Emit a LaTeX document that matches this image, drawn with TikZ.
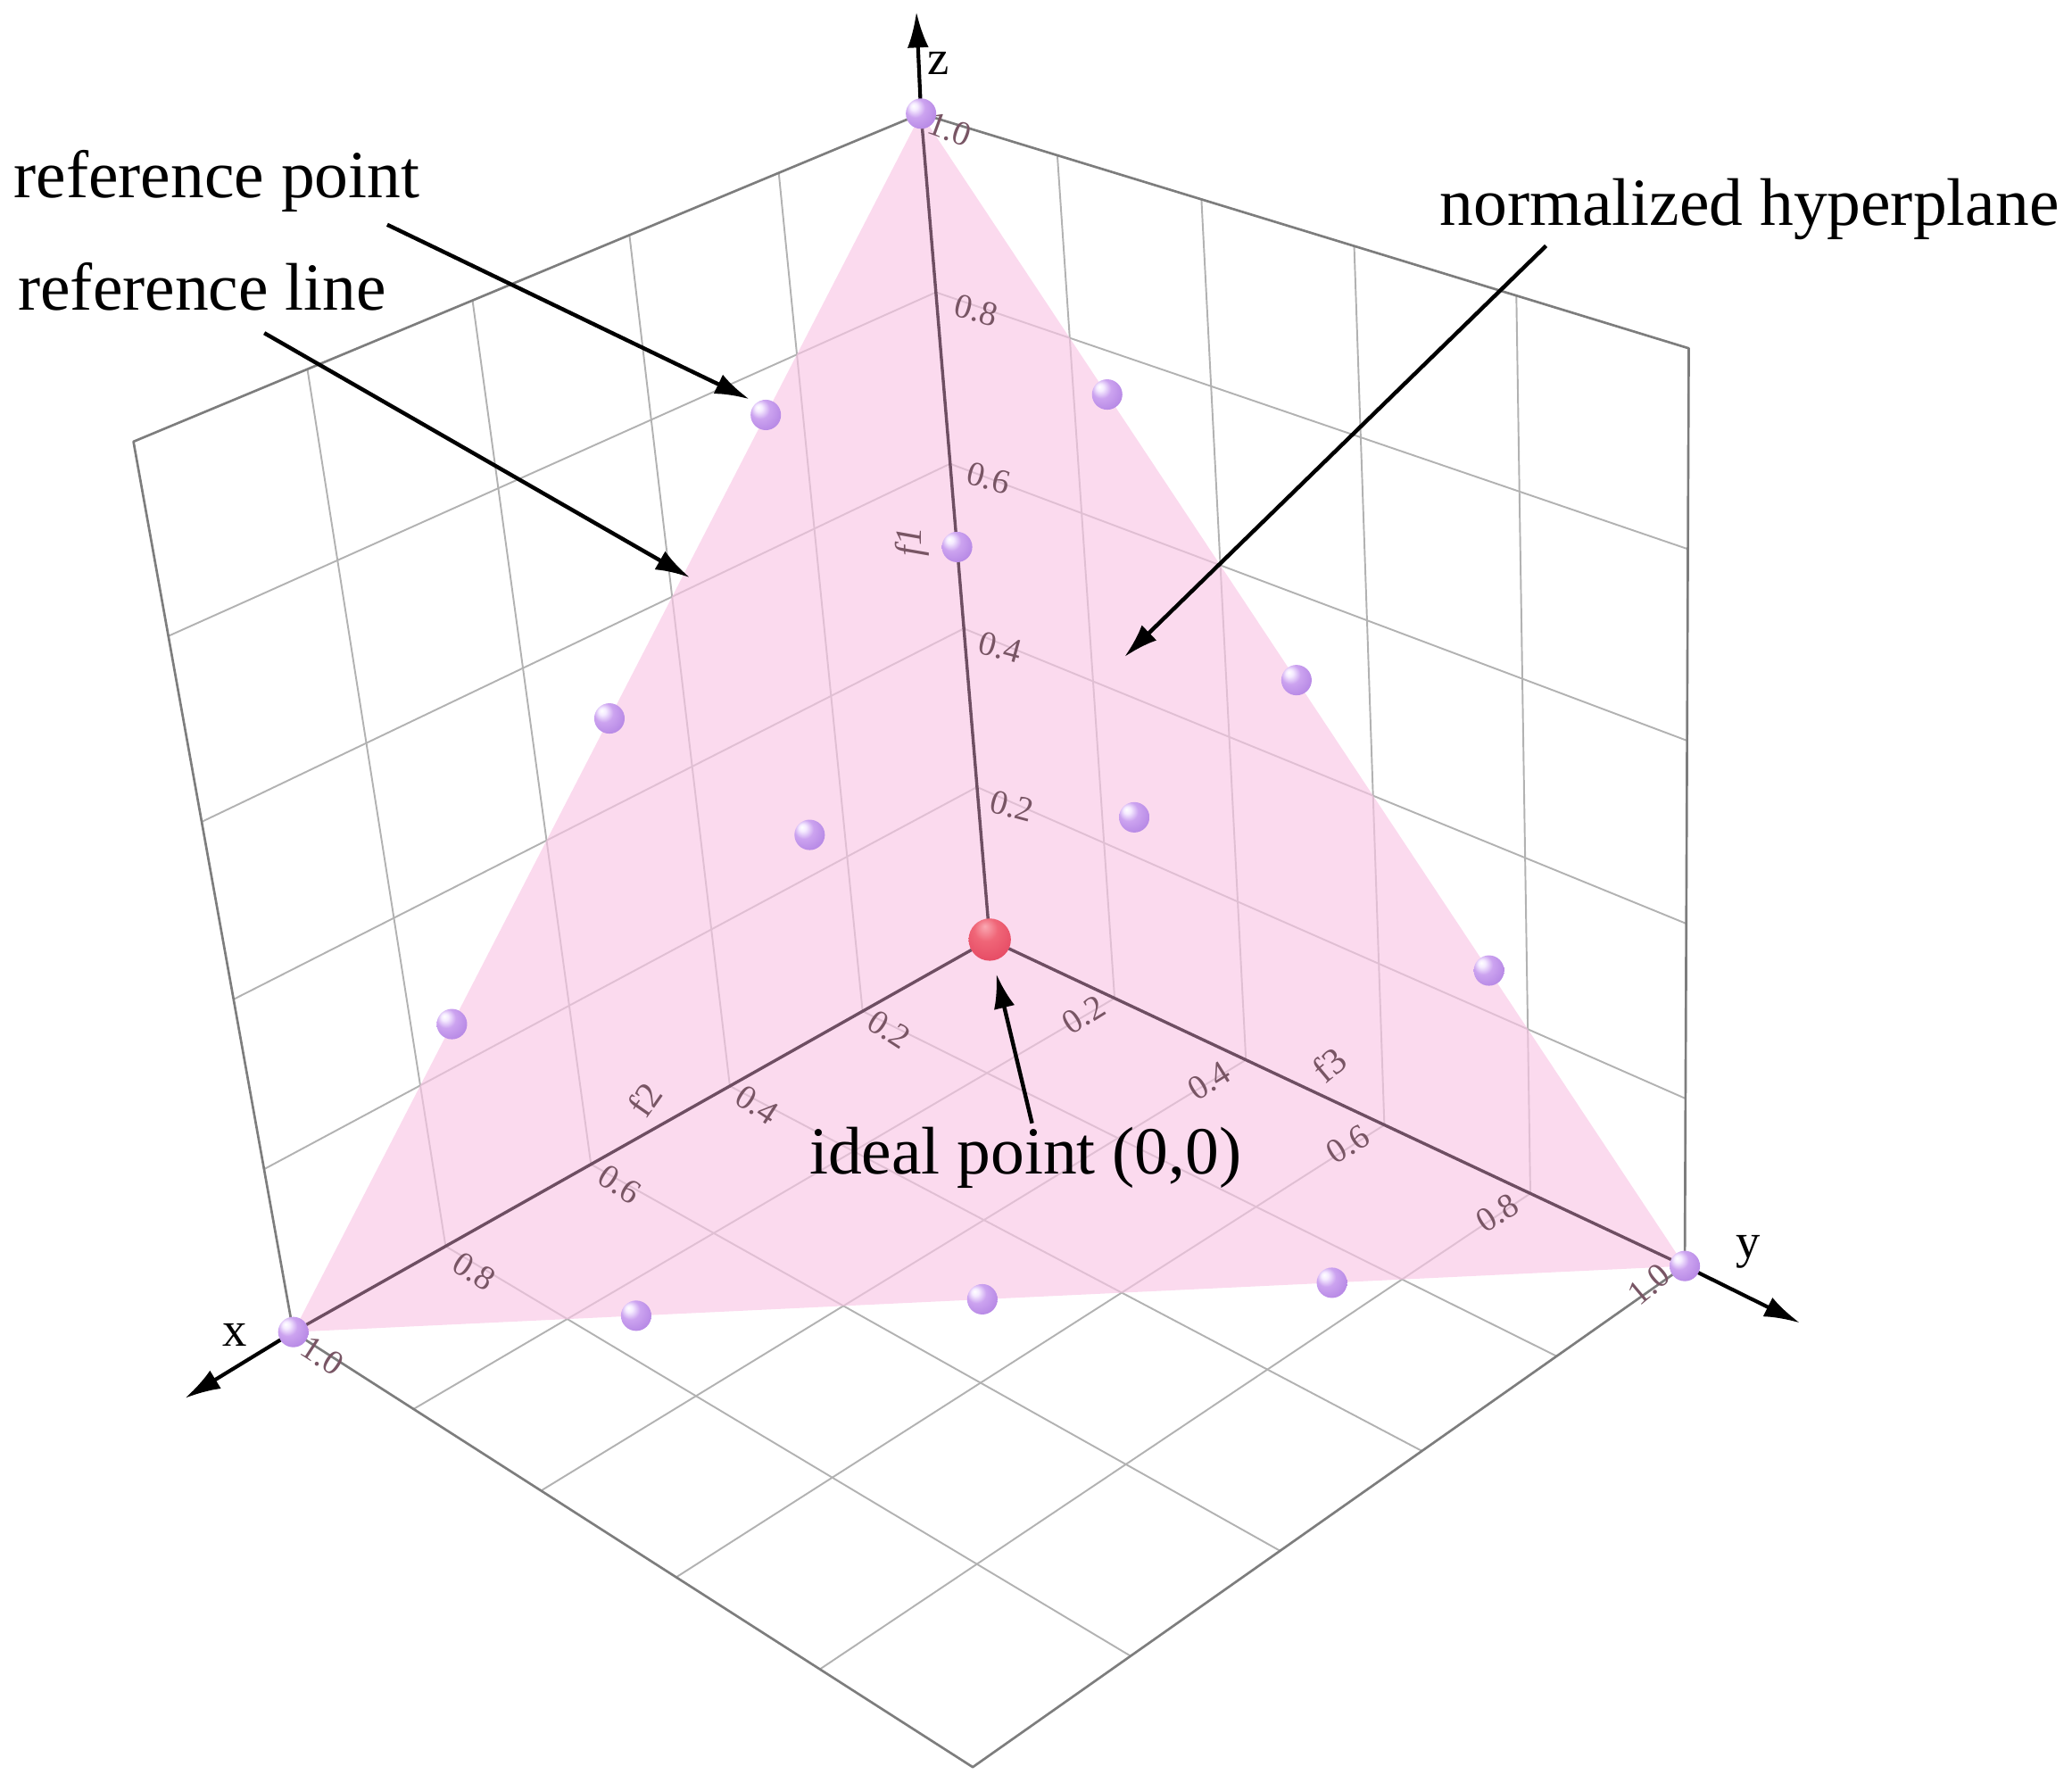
\documentclass[tikz,border=0pt]{standalone}
\usepackage{fontspec}
\setmainfont{Liberation Serif}
\usetikzlibrary{arrows.meta}
\makeatletter
\def\pers@parse#1,#2,#3\pers@end{%
  \pgfmathsetmacro\pers@w{1-0.107*(#1)-0.124*(#2)-0.094*(#3)}%
  \pgfmathsetmacro\pers@x{(749-550.8*(#1)+367.9*(#2)-117.5*(#3))/\pers@w}%
  \pgfmathsetmacro\pers@y{(711+189.1*(#1)+128.2*(#2)-633.1*(#3))/\pers@w}%
  \pgfpointxy{\pers@x}{\pers@y}}
\tikzdeclarecoordinatesystem{persp}{\pers@parse#1\pers@end}
\makeatother
\pgfdeclareradialshading{lavball}{\pgfpoint{-13bp}{13bp}}{%
  rgb(0bp)=(1,1,1); rgb(6bp)=(0.96,0.92,1); rgb(16bp)=(0.80,0.64,0.94);
  rgb(32bp)=(0.72,0.54,0.90); rgb(48bp)=(0.60,0.43,0.84); rgb(60bp)=(0.55,0.38,0.80)}
\pgfdeclareradialshading{redball}{\pgfpoint{-6bp}{16bp}}{%
  rgb(0bp)=(0.98,0.66,0.70); rgb(14bp)=(0.94,0.40,0.47); rgb(34bp)=(0.90,0.29,0.39);
  rgb(50bp)=(0.82,0.22,0.33); rgb(60bp)=(0.78,0.20,0.30)}
\definecolor{gridc}{RGB}{178,178,178}
\definecolor{edgec}{RGB}{125,125,125}
\definecolor{axisc}{RGB}{110,78,98}
\definecolor{tickc}{RGB}{120,85,100}
\definecolor{pinkc}{RGB}{249,198,229}
\begin{document}
\begin{tikzpicture}[x=0.1mm,y=-0.1mm,
  gridline/.style={draw=gridc,line width=0.13mm},
  edgeline/.style={draw=edgec,line width=0.18mm,line join=round},
  axisline/.style={draw=axisc,line width=0.23mm},
  axisarrow/.style={draw=black,line width=0.28mm,-{Latex[length=2.7mm,width=1.6mm]}},
  annarrow/.style={draw=black,line width=0.3mm,-{Latex[length=2.6mm,width=1.6mm]}},
  ticklab/.style={text=tickc,inner sep=0pt,font=\fontsize{7.4}{8}\selectfont},
  axtitle/.style={text=tickc,inner sep=0pt,font=\fontsize{8}{9}\selectfont},
  axletter/.style={text=black,inner sep=0pt,font=\fontsize{10.5}{12}\selectfont},
  biglabel/.style={text=black,inner sep=0pt,font=\fontsize{14.5}{17}\selectfont},
  refball/.style={shading=lavball},
  idealball/.style={shading=redball}]
\useasboundingbox (0,0) rectangle (1568,1349);

% wall grids
\foreach \t in {0.2,0.4,0.6,0.8}{
  \draw[gridline] (persp cs:\t,0,0) -- (persp cs:\t,0,1);
  \draw[gridline] (persp cs:0,0,\t) -- (persp cs:1,0,\t);
  \draw[gridline] (persp cs:0,\t,0) -- (persp cs:0,\t,1);
  \draw[gridline] (persp cs:0,0,\t) -- (persp cs:0,1,\t);
  \draw[gridline] (persp cs:\t,0,0) -- (persp cs:\t,1,0);
  \draw[gridline] (persp cs:0,\t,0) -- (persp cs:1,\t,0);
}
\draw[edgeline] (persp cs:1,0,0) -- (persp cs:1,0,1) -- (persp cs:0,0,1)
  -- (persp cs:0,1,1) -- (persp cs:0,1,0) -- (persp cs:1,1,0) -- cycle;

\coordinate (O) at (persp cs:0,0,0);
\coordinate (X1) at (persp cs:1,0,0);
\coordinate (Y1) at (persp cs:0,1,0);
\coordinate (Z1) at (persp cs:0,0,1);

% normalized hyperplane
\fill[pinkc,opacity=0.65] (X1) -- (Y1) -- (Z1) -- cycle;

% axes
\draw[axisline] (O) -- (X1);
\draw[axisline] (O) -- (Y1);
\draw[axisline] (O) -- (Z1);

% tick labels f1
\node[ticklab,rotate=-20] (z10) at (719,98) {1.0};
\node[ticklab,rotate=-15] (z08) at (739,235) {0.8};
\node[ticklab,rotate=-15] (z06) at (748,362) {0.6};
\node[ticklab,rotate=-15] (z04) at (757,490) {0.4};
\node[ticklab,rotate=-15] (z02) at (766,610) {0.2};
\node[axtitle,rotate=90] (f1) at (690,410) {\textit{f1}};
% tick labels f2
\node[ticklab,rotate=-33] (x02) at (673,779) {0.2};
\node[ticklab,rotate=-33] (x04) at (573,836) {0.4};
\node[ticklab,rotate=-33] (x06) at (469,896) {0.6};
\node[ticklab,rotate=-33] (x08) at (359,962) {0.8};
\node[ticklab,rotate=-33] (x10) at (244,1026) {1.0};
\node[axtitle,rotate=55] (f2) at (488,832) {f2};
% tick labels f3
\node[ticklab,rotate=32] (y02) at (820,768) {0.2};
\node[ticklab,rotate=32] (y04) at (915,818) {0.4};
\node[ticklab,rotate=32] (y06) at (1020,866) {0.6};
\node[ticklab,rotate=32] (y08) at (1133,918) {0.8};
\node[ticklab,rotate=40] (y10) at (1248,972) {1.0};
\node[axtitle,rotate=40] (f3) at (1006,806) {f3};

% axis arrows
\coordinate (ztip) at (693.5,9);
\coordinate (xtip) at (140,1058);
\coordinate (ytip) at (1362,1001);
\draw[axisarrow] (Z1) -- (ztip);
\draw[axisarrow] (X1) -- (xtip);
\draw[axisarrow] (Y1) -- (ytip);
\node[axletter] (zlab) at (710,48) {z};
\node[axletter] (xlab) at (178,1010) {x};
\node[axletter] (ylab) at (1323,947) {y};

% reference points
\foreach \a/\b/\c in {1/0/0,0.75/0.25/0,0.5/0.5/0,0.25/0.75/0,0/1/0,
  0.75/0/0.25,0.5/0/0.5,0.25/0/0.75,0/0/1,
  0/0.75/0.25,0/0.5/0.5,0/0.25/0.75,
  0/0/0.5,0.25/0/0.25,0/0.25/0.25}{
  \shade[refball] (persp cs:\a,\b,\c) circle[radius=11.5];
}
\shade[idealball] (O) circle[radius=16];

% annotations
\node[biglabel] (refpt) at (164,137) {reference point};
\node[biglabel] (refline) at (153,217) {reference line};
\node[biglabel] (hyper) at (1324,158) {normalized hyperplane};
\node[biglabel] (ideal) at (776,876) {ideal point (0,0)};
\coordinate (refptS) at (293,170);
\coordinate (refptE) at (567,302);
\coordinate (reflineS) at (200,252);
\coordinate (reflineE) at (522,437);
\coordinate (hyperS) at (1170,186);
\coordinate (hyperE) at (851,497);
\coordinate (idealS) at (781,850);
\coordinate (idealE) at (754,737);
\draw[annarrow] (refptS) -- (refptE);
\draw[annarrow] (reflineS) -- (reflineE);
\draw[annarrow] (hyperS) -- (hyperE);
\draw[annarrow] (idealS) -- (idealE);
\end{tikzpicture}
\end{document}
